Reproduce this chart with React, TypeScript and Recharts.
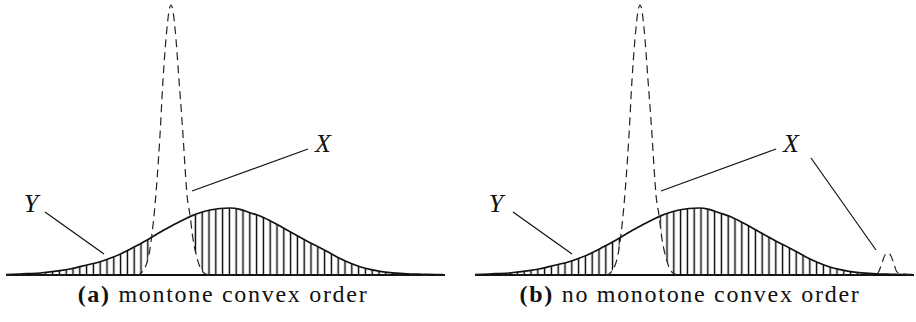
import {
  Area,
  ComposedChart,
  Line,
  ReferenceDot,
  ReferenceLine,
  XAxis,
  YAxis
} from "recharts";

// horizontal positions (shared by both panels)
const xs = [
  0, 14, 34, 54, 64, 74, 84, 94, 104, 114, 124, 132, 134, 137, 142, 144, 146, 149, 151, 154, 157,
  161, 163, 165, 167, 169, 173, 177, 179, 181, 184, 187, 191, 194, 198, 204, 214, 224, 234, 244,
  254, 264, 274, 284, 294, 304, 314, 324, 334, 344, 354, 364, 374, 384, 394, 401, 404, 407, 410,
  413, 416, 419, 422, 437
];

// Y: the wide density (solid)
const yDensity = [
  0.3, 1, 2, 4.3, 6, 8.3, 10.7, 13.3, 16.7, 20.7, 25.7, 29.9, 31, 32.7, 35.5, 36.7, 37.9, 39.7, 40.9, 42.7, 44.4,
  46.6, 47.7, 48.8, 49.9, 51, 53, 55, 56, 57, 58.3, 59.6, 61.2, 62.3, 63.5, 65, 66.5, 67, 65.7, 62.3,
  59, 54.3, 49, 43.3, 37.7, 32.3, 27.3, 22, 16.5, 12, 8.3, 5.7, 3.7, 2.3, 1.7, 1.2, 1, 0.95, 0.9,
  0.8, 0.75, 0.7, 0.6, 0.3
];

// X: the narrow density (dashed), panel (a)
const xDensityA = [
  0, 0, 0, 0, 0, 0, 0, 0, 0, 0, 0, 0, 1, 4, 16, 26, 41, 70, 95, 140, 195,
  247, 264, 270, 264, 247, 195, 140, 108, 80, 60, 36, 17, 8, 2, 0, 0, 0, 0, 0,
  0, 0, 0, 0, 0, 0, 0, 0, 0, 0, 0, 0, 0, 0, 0, 0, 0, 0, 0,
  0, 0, 0, 0, 0
];

// X in panel (b): same peak plus a small bump in the right tail
const xDensityB = [
  0, 0, 0, 0, 0, 0, 0, 0, 0, 0, 0, 0, 1, 4, 16, 26, 41, 70, 95, 140, 195,
  247, 264, 270, 264, 247, 195, 140, 108, 80, 60, 36, 17, 8, 2, 0, 0, 0, 0, 0,
  0, 0, 0, 0, 0, 0, 0, 0, 0, 0, 0, 0, 0, 0, 0, 0, 4, 12, 20, 22,
  19, 11, 3, 0, 0
];

const leadersA = [
  { from: { x: 39, y: 63 }, to: { x: 98, y: 21 } },
  { from: { x: 302, y: 126 }, to: { x: 186, y: 84 } }
];
const labelsA = [
  { text: "Y", x: 25, y: 63 },
  { text: "X", x: 317, y: 123 }
];

const leadersB = [
  { from: { x: 38, y: 63 }, to: { x: 97, y: 21 } },
  { from: { x: 301, y: 126 }, to: { x: 186, y: 84 } },
  { from: { x: 336, y: 117 }, to: { x: 401, y: 25 } }
];
const labelsB = [
  { text: "Y", x: 21, y: 63 },
  { text: "X", x: 316, y: 123 }
];

const captionA = ["(a)", "montone convex order"];
const captionB = ["(b)", "no monotone convex order"];

const serif = '"Liberation Serif", "Times New Roman", Times, serif';

type Pt = { x: number; y: number };
type PanelProps = {
  id: string;
  xDensity: number[];
  leaders: { from: Pt; to: Pt }[];
  labels: { text: string; x: number; y: number }[];
  left: number;
  marginLeft: number;
};

function buildRows(xDensity: number[]) {
  return xs.map((x, i) => ({
    x,
    y: yDensity[i],
    xd: xDensity[i],
    hatch: [Math.min(xDensity[i], yDensity[i]), yDensity[i]]
  }));
}

function Panel({ id, xDensity, leaders, labels, left, marginLeft }: PanelProps) {
  const rows = buildRows(xDensity);
  return (
    <div style={{ position: "absolute", left, top: 0 }}>
      <ComposedChart
        width={458}
        height={290}
        data={rows}
        margin={{ top: 5, right: 458 - marginLeft - 439, bottom: 15, left: marginLeft }}
      >
        <defs>
          <pattern id={id} patternUnits="userSpaceOnUse" x={1.6} y={0} width={6.8} height={10}>
            <line x1={3.4} y1={0} x2={3.4} y2={10} stroke="#000" strokeWidth={1.4} />
          </pattern>
        </defs>
        <XAxis dataKey="x" type="number" domain={[0, 439]} hide />
        <YAxis type="number" domain={[0, 270]} hide />
        <Area
          type="monotone"
          dataKey="hatch"
          stroke="none"
          fill={`url(#${id})`}
          fillOpacity={1}
          isAnimationActive={false}
          activeDot={false}
        />
        <ReferenceLine y={0} stroke="#111" strokeWidth={2} />
        <Line
          type="monotone"
          dataKey="y"
          stroke="#111"
          strokeWidth={1.7}
          dot={false}
          activeDot={false}
          isAnimationActive={false}
        />
        <Line
          type="monotone"
          dataKey="xd"
          stroke="#222"
          strokeWidth={1.2}
          strokeDasharray="8 5"
          dot={false}
          activeDot={false}
          isAnimationActive={false}
        />
        {leaders.map((l, i) => (
          <ReferenceLine key={i} segment={[l.from, l.to]} stroke="#111" strokeWidth={1.2} />
        ))}
        {labels.map((lb) => (
          <ReferenceDot
            key={lb.text}
            x={lb.x}
            y={lb.y}
            r={0}
            shape={(p: any) => (
              <text
                x={p.cx}
                y={p.cy}
                textAnchor="middle"
                style={{ fontFamily: serif, fontStyle: "italic", fontSize: 26 }}
                fill="#111"
              >
                {lb.text}
              </text>
            )}
          />
        ))}
      </ComposedChart>
    </div>
  );
}

function Caption({ parts, center }: { parts: string[]; center: number }) {
  return (
    <div
      style={{
        position: "absolute",
        left: center - 229,
        width: 458,
        top: 282,
        textAlign: "center",
        fontFamily: serif,
        fontSize: 24,
        lineHeight: "24px",
        letterSpacing: 1.7,
        color: "#111",
        whiteSpace: "nowrap"
      }}
    >
      <b>{parts[0]}</b> {parts[1]}
    </div>
  );
}

export default function App() {
  return (
    <div style={{ position: "absolute", left: 0, top: 0, width: 916, height: 322, background: "#fff" }}>
      <Panel id="hatchA" xDensity={xDensityA} leaders={leadersA} labels={labelsA} left={0} marginLeft={6} />
      <Panel id="hatchB" xDensity={xDensityB} leaders={leadersB} labels={labelsB} left={458} marginLeft={17} />
      <Caption parts={captionA} center={223} />
      <Caption parts={captionB} center={690} />
    </div>
  );
}
